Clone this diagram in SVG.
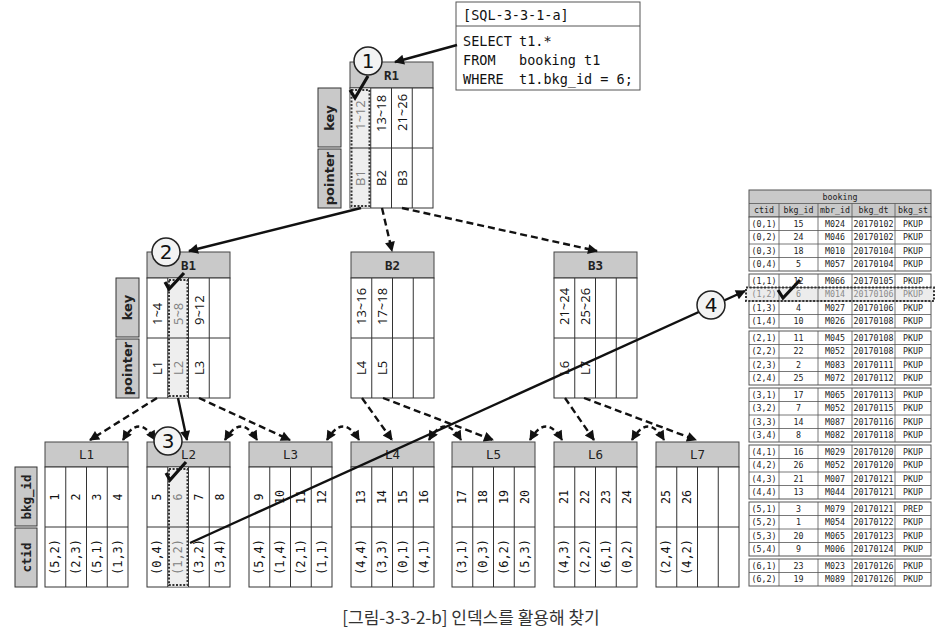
<svg xmlns="http://www.w3.org/2000/svg" width="942" height="640" viewBox="0 0 942 640">
<defs>
<style>
.hd{fill:#c9c9c9;stroke:#444;stroke-width:1}
.bd{fill:#fff;stroke:#333;stroke-width:1}
.ln{fill:none;stroke:#333;stroke-width:1}
.hi{fill:#eeeeee;stroke:none}
.dot{fill:none;stroke:#333;stroke-width:2;stroke-dasharray:2 1.6}
.sl{fill:#c9c9c9;stroke:#333;stroke-width:1}
.ht{font-family:"DejaVu Sans Mono",monospace;font-size:12.5px;text-anchor:middle;dominant-baseline:central;fill:#222}
.st{font-family:"DejaVu Sans","Noto Sans",sans-serif;font-weight:bold;font-size:13px;text-anchor:middle;dominant-baseline:central;fill:#222}
.sm{font-family:"DejaVu Sans Mono",monospace;font-weight:bold;font-size:12.5px;text-anchor:middle;dominant-baseline:central;fill:#222}
.k{font-family:"Open Sans","Noto Sans",sans-serif;font-size:13px;text-anchor:start;dominant-baseline:central;fill:#111}
.p{font-family:"Open Sans","Noto Sans",sans-serif;font-size:13px;text-anchor:middle;dominant-baseline:central;fill:#111}
.n{font-family:"DejaVu Sans Mono",monospace;font-size:11.5px;text-anchor:middle;dominant-baseline:central;fill:#111}
.c{font-family:"DejaVu Sans Mono",monospace;font-size:12px;text-anchor:middle;dominant-baseline:central;fill:#111}
.g{fill:#808080}
.sql{font-family:"DejaVu Sans Mono",monospace;font-size:13.5px;fill:#111}
.tb{font-family:"DejaVu Sans Mono",monospace;font-size:8.3px;text-anchor:middle;dominant-baseline:central;fill:#222}
.tbg{fill:#8a8a8a}
.tl{fill:none;stroke:#555;stroke-width:0.8}
.tr{fill:#fff;stroke:#555;stroke-width:1}
.th{fill:#c9c9c9;stroke:#555;stroke-width:1}
.sol{fill:none;stroke:#111;stroke-width:2.4;marker-end:url(#ah)}
.dsh{fill:none;stroke:#111;stroke-width:2.4;stroke-dasharray:7 4;marker-end:url(#ah)}
.cur{fill:none;stroke:#111;stroke-width:2.4;stroke-dasharray:5 3.5;marker-end:url(#ah);marker-start:url(#ah2)}
.chk{fill:none;stroke:#111;stroke-width:3.2;stroke-linejoin:miter;stroke-linecap:butt}
.cir{fill:#f3f3f3;stroke:#222;stroke-width:1.5}
.cn{font-family:"DejaVu Sans","Liberation Sans",sans-serif;font-size:20px;text-anchor:middle;dominant-baseline:central;fill:#111}
</style>
<marker id="ah" viewBox="0 0 10 10" refX="9" refY="5" markerUnits="userSpaceOnUse" markerWidth="12" markerHeight="10" orient="auto"><path d="M0,0L10,5L0,10z" fill="#111"/></marker>
<marker id="ah2" viewBox="0 0 10 10" refX="9" refY="5" markerUnits="userSpaceOnUse" markerWidth="12" markerHeight="10" orient="auto-start-reverse"><path d="M0,0L10,5L0,10z" fill="#111"/></marker>
</defs>
<rect x="0" y="0" width="942" height="640" fill="#fff"/>

<!-- SQL box -->
<g id="sql">
<rect x="456" y="2" width="184" height="88" fill="#fff" stroke="#555" stroke-width="1"/>
<line x1="456" y1="26" x2="640" y2="26" stroke="#555" stroke-width="1"/>
<text class="sql" x="463" y="20">[SQL-3-3-1-a]</text>
<text class="sql" x="463" y="46">SELECT</text><text class="sql" x="519" y="46">t1.*</text>
<text class="sql" x="463" y="65">FROM</text><text class="sql" x="519" y="65">booking t1</text>
<text class="sql" x="463" y="84">WHERE</text><text class="sql" x="519" y="84">t1.bkg_id = 6;</text>
</g>

<!-- R1 -->
<g id="R1">
<rect class="sl" x="318" y="88" width="23" height="59"/>
<rect class="sl" x="318" y="149" width="23" height="59"/>
<text class="st" transform="translate(329.5,118) rotate(-90)">key</text>
<text class="st" transform="translate(329.5,178.5) rotate(-90)">pointer</text>
<rect class="hd" x="350" y="62" width="83" height="26"/>
<text class="ht" x="391.5" y="75" font-weight="bold">R1</text>
<rect class="bd" x="350" y="88" width="83" height="120"/>
<rect class="hi" x="350.5" y="88.5" width="20" height="119"/>
<path class="ln" d="M370.75,88V208M391.5,88V208M412.25,88V208M350,148H433"/>
<rect class="dot" x="351.5" y="90" width="18" height="116"/>
<text class="k g" transform="translate(360.4,130) rotate(-90)">1~12</text>
<text class="k" transform="translate(381.1,132) rotate(-90)">13~18</text>
<text class="k" transform="translate(401.9,131) rotate(-90)">21~26</text>
<text class="p g" transform="translate(360.4,178) rotate(-90)">B1</text>
<text class="p" transform="translate(381.1,178) rotate(-90)">B2</text>
<text class="p" transform="translate(401.9,178) rotate(-90)">B3</text>
</g>

<!-- B1 -->
<g id="B1">
<rect class="sl" x="116" y="278" width="23" height="59"/>
<rect class="sl" x="116" y="339" width="23" height="59"/>
<text class="st" transform="translate(127.5,307.5) rotate(-90)">key</text>
<text class="st" transform="translate(127.5,368.5) rotate(-90)">pointer</text>
<rect class="hd" x="147" y="252" width="83" height="26"/>
<text class="ht" x="188.5" y="265" font-weight="bold">B1</text>
<rect class="bd" x="147" y="278" width="83" height="120"/>
<rect class="hi" x="168.25" y="278.5" width="20" height="119"/>
<path class="ln" d="M167.75,278V398M188.5,278V398M209.25,278V398M147,338H230"/>
<rect class="dot" x="169" y="280" width="18.5" height="116"/>
<text class="k" transform="translate(157.4,325) rotate(-90)">1~4</text>
<text class="k g" transform="translate(178.1,325) rotate(-90)">5~8</text>
<text class="k" transform="translate(198.9,325) rotate(-90)">9~12</text>
<text class="p" transform="translate(157.4,368) rotate(-90)">L1</text>
<text class="p g" transform="translate(178.1,368) rotate(-90)">L2</text>
<text class="p" transform="translate(198.9,368) rotate(-90)">L3</text>
</g>

<!-- B2 -->
<g id="B2">
<rect class="hd" x="351" y="252" width="83" height="26"/>
<text class="ht" x="392.5" y="265" font-weight="bold">B2</text>
<rect class="bd" x="351" y="278" width="83" height="120"/>
<path class="ln" d="M371.75,278V398M392.5,278V398M413.25,278V398M351,338H434"/>
<text class="k" transform="translate(361.4,325) rotate(-90)">13~16</text>
<text class="k" transform="translate(382.1,325) rotate(-90)">17~18</text>
<text class="p" transform="translate(361.4,368) rotate(-90)">L4</text>
<text class="p" transform="translate(382.1,368) rotate(-90)">L5</text>
</g>

<!-- B3 -->
<g id="B3">
<rect class="hd" x="554" y="252" width="83" height="26"/>
<text class="ht" x="595.5" y="265" font-weight="bold">B3</text>
<rect class="bd" x="554" y="278" width="83" height="120"/>
<path class="ln" d="M574.75,278V398M595.5,278V398M616.25,278V398M554,338H637"/>
<text class="k" transform="translate(564.4,325) rotate(-90)">21~24</text>
<text class="k" transform="translate(585.1,325) rotate(-90)">25~26</text>
<text class="p" transform="translate(564.4,368) rotate(-90)">L6</text>
<text class="p" transform="translate(585.1,368) rotate(-90)">L7</text>
</g>

<!-- leaf side labels -->
<g id="leaf-labels">
<rect class="sl" x="15" y="467" width="22" height="59"/>
<rect class="sl" x="15" y="528" width="22" height="59"/>
<text class="sm" transform="translate(26,497) rotate(-90)">bkg_id</text>
<text class="sm" transform="translate(26,557.5) rotate(-90)">ctid</text>
</g>

<!-- L1 -->
<g id="L1">
<rect class="hd" x="45" y="442" width="83" height="25"/>
<text class="ht" x="86.5" y="454.5">L1</text>
<rect class="bd" x="45" y="467" width="83" height="120"/>
<path class="ln" d="M65.75,467V587M86.5,467V587M107.25,467V587M45,527H128"/>
<text class="n" transform="translate(55.4,497) rotate(-90)">1</text>
<text class="n" transform="translate(76.1,497) rotate(-90)">2</text>
<text class="n" transform="translate(96.9,497) rotate(-90)">3</text>
<text class="n" transform="translate(117.6,497) rotate(-90)">4</text>
<text class="c" transform="translate(55.4,557) rotate(-90)">(5,2)</text>
<text class="c" transform="translate(76.1,557) rotate(-90)">(2,3)</text>
<text class="c" transform="translate(96.9,557) rotate(-90)">(5,1)</text>
<text class="c" transform="translate(117.6,557) rotate(-90)">(1,3)</text>
</g>

<!-- L2 -->
<g id="L2">
<rect class="hd" x="147" y="442" width="83" height="25"/>
<text class="ht" x="188.5" y="454.5">L2</text>
<rect class="bd" x="147" y="467" width="83" height="120"/>
<rect class="hi" x="168.25" y="467.5" width="20" height="119"/>
<path class="ln" d="M167.75,467V587M188.5,467V587M209.25,467V587M147,527H230"/>
<rect class="dot" x="169" y="469" width="18.5" height="116"/>
<text class="n" transform="translate(157.4,497) rotate(-90)">5</text>
<text class="n g" transform="translate(178.1,497) rotate(-90)">6</text>
<text class="n" transform="translate(198.9,497) rotate(-90)">7</text>
<text class="n" transform="translate(219.6,497) rotate(-90)">8</text>
<text class="c" transform="translate(157.4,557) rotate(-90)">(0,4)</text>
<text class="c g" transform="translate(178.1,557) rotate(-90)">(1,2)</text>
<text class="c" transform="translate(198.9,557) rotate(-90)">(3,2)</text>
<text class="c" transform="translate(219.6,557) rotate(-90)">(3,4)</text>
</g>

<!-- L3 -->
<g id="L3">
<rect class="hd" x="249" y="442" width="83" height="25"/>
<text class="ht" x="290.5" y="454.5">L3</text>
<rect class="bd" x="249" y="467" width="83" height="120"/>
<path class="ln" d="M269.75,467V587M290.5,467V587M311.25,467V587M249,527H332"/>
<text class="n" transform="translate(259.4,497) rotate(-90)">9</text>
<text class="n" transform="translate(280.1,497) rotate(-90)">10</text>
<text class="n" transform="translate(300.9,497) rotate(-90)">11</text>
<text class="n" transform="translate(321.6,497) rotate(-90)">12</text>
<text class="c" transform="translate(259.4,557) rotate(-90)">(5,4)</text>
<text class="c" transform="translate(280.1,557) rotate(-90)">(1,4)</text>
<text class="c" transform="translate(300.9,557) rotate(-90)">(2,1)</text>
<text class="c" transform="translate(321.6,557) rotate(-90)">(1,1)</text>
</g>

<!-- L4 -->
<g id="L4">
<rect class="hd" x="351" y="442" width="83" height="25"/>
<text class="ht" x="392.5" y="454.5">L4</text>
<rect class="bd" x="351" y="467" width="83" height="120"/>
<path class="ln" d="M371.75,467V587M392.5,467V587M413.25,467V587M351,527H434"/>
<text class="n" transform="translate(361.4,497) rotate(-90)">13</text>
<text class="n" transform="translate(382.1,497) rotate(-90)">14</text>
<text class="n" transform="translate(402.9,497) rotate(-90)">15</text>
<text class="n" transform="translate(423.6,497) rotate(-90)">16</text>
<text class="c" transform="translate(361.4,557) rotate(-90)">(4,4)</text>
<text class="c" transform="translate(382.1,557) rotate(-90)">(3,3)</text>
<text class="c" transform="translate(402.9,557) rotate(-90)">(0,1)</text>
<text class="c" transform="translate(423.6,557) rotate(-90)">(4,1)</text>
</g>

<!-- L5 -->
<g id="L5">
<rect class="hd" x="452" y="442" width="83" height="25"/>
<text class="ht" x="493.5" y="454.5">L5</text>
<rect class="bd" x="452" y="467" width="83" height="120"/>
<path class="ln" d="M472.75,467V587M493.5,467V587M514.25,467V587M452,527H535"/>
<text class="n" transform="translate(462.4,497) rotate(-90)">17</text>
<text class="n" transform="translate(483.1,497) rotate(-90)">18</text>
<text class="n" transform="translate(503.9,497) rotate(-90)">19</text>
<text class="n" transform="translate(524.6,497) rotate(-90)">20</text>
<text class="c" transform="translate(462.4,557) rotate(-90)">(3,1)</text>
<text class="c" transform="translate(483.1,557) rotate(-90)">(0,3)</text>
<text class="c" transform="translate(503.9,557) rotate(-90)">(6,2)</text>
<text class="c" transform="translate(524.6,557) rotate(-90)">(5,3)</text>
</g>

<!-- L6 -->
<g id="L6">
<rect class="hd" x="554" y="442" width="83" height="25"/>
<text class="ht" x="595.5" y="454.5">L6</text>
<rect class="bd" x="554" y="467" width="83" height="120"/>
<path class="ln" d="M574.75,467V587M595.5,467V587M616.25,467V587M554,527H637"/>
<text class="n" transform="translate(564.4,497) rotate(-90)">21</text>
<text class="n" transform="translate(585.1,497) rotate(-90)">22</text>
<text class="n" transform="translate(605.9,497) rotate(-90)">23</text>
<text class="n" transform="translate(626.6,497) rotate(-90)">24</text>
<text class="c" transform="translate(564.4,557) rotate(-90)">(4,3)</text>
<text class="c" transform="translate(585.1,557) rotate(-90)">(2,2)</text>
<text class="c" transform="translate(605.9,557) rotate(-90)">(6,1)</text>
<text class="c" transform="translate(626.6,557) rotate(-90)">(0,2)</text>
</g>

<!-- L7 -->
<g id="L7">
<rect class="hd" x="656" y="442" width="83" height="25"/>
<text class="ht" x="697.5" y="454.5">L7</text>
<rect class="bd" x="656" y="467" width="83" height="120"/>
<path class="ln" d="M676.75,467V587M697.5,467V587M718.25,467V587M656,527H739"/>
<text class="n" transform="translate(666.4,497) rotate(-90)">25</text>
<text class="n" transform="translate(687.1,497) rotate(-90)">26</text>
<text class="c" transform="translate(666.4,557) rotate(-90)">(2,4)</text>
<text class="c" transform="translate(687.1,557) rotate(-90)">(4,2)</text>
</g>

<!-- booking table -->
<g id="booking">
<rect class="th" x="749" y="190" width="182" height="27"/>
<path class="tl" d="M749,203.5H931M779,203.5V217M818,203.5V217M852,203.5V217M895,203.5V217"/>
<text class="tb" x="840" y="196.75">booking</text>
<text class="tb" y="210.25"><tspan x="764">ctid</tspan><tspan x="798.5">bkg_id</tspan><tspan x="835">mbr_id</tspan><tspan x="873.5">bkg_dt</tspan><tspan x="913">bkg_st</tspan></text>

<rect class="tr" x="749" y="217" width="182" height="54"/>
<path class="tl" d="M779,217V271M818,217V271M852,217V271M895,217V271M749,230.5H931M749,244H931M749,257.5H931"/>
<rect class="tr" x="749" y="274" width="182" height="54"/>
<rect x="746" y="287.5" width="188" height="13.5" fill="#ececec"/>
<path class="tl" d="M779,274V328M818,274V328M852,274V328M895,274V328M749,287.5H931M749,301H931M749,314.5H931"/>
<rect class="dot" x="746" y="287.5" width="188" height="13.5"/>
<rect class="tr" x="749" y="331" width="182" height="54"/>
<path class="tl" d="M779,331V385M818,331V385M852,331V385M895,331V385M749,344.5H931M749,358H931M749,371.5H931"/>
<rect class="tr" x="749" y="388" width="182" height="54"/>
<path class="tl" d="M779,388V442M818,388V442M852,388V442M895,388V442M749,401.5H931M749,415H931M749,428.5H931"/>
<rect class="tr" x="749" y="445" width="182" height="54"/>
<path class="tl" d="M779,445V499M818,445V499M852,445V499M895,445V499M749,458.5H931M749,472H931M749,485.5H931"/>
<rect class="tr" x="749" y="502" width="182" height="54"/>
<path class="tl" d="M779,502V556M818,502V556M852,502V556M895,502V556M749,515.5H931M749,529H931M749,542.5H931"/>
<rect class="tr" x="749" y="559" width="182" height="27"/>
<path class="tl" d="M779,559V586M818,559V586M852,559V586M895,559V586M749,572.5H931"/>

<text class="tb" y="223.75"><tspan x="764">(0,1)</tspan><tspan x="798.5">15</tspan><tspan x="835">M024</tspan><tspan x="873.5">20170102</tspan><tspan x="913">PKUP</tspan></text>
<text class="tb" y="237.25"><tspan x="764">(0,2)</tspan><tspan x="798.5">24</tspan><tspan x="835">M046</tspan><tspan x="873.5">20170102</tspan><tspan x="913">PKUP</tspan></text>
<text class="tb" y="250.75"><tspan x="764">(0,3)</tspan><tspan x="798.5">18</tspan><tspan x="835">M010</tspan><tspan x="873.5">20170104</tspan><tspan x="913">PKUP</tspan></text>
<text class="tb" y="264.25"><tspan x="764">(0,4)</tspan><tspan x="798.5">5</tspan><tspan x="835">M057</tspan><tspan x="873.5">20170104</tspan><tspan x="913">PKUP</tspan></text>

<text class="tb" y="280.75"><tspan x="764">(1,1)</tspan><tspan x="798.5">12</tspan><tspan x="835">M066</tspan><tspan x="873.5">20170105</tspan><tspan x="913">PKUP</tspan></text>
<text class="tb tbg" y="294.25"><tspan x="764">(1,2)</tspan><tspan x="798.5">6</tspan><tspan x="835">M014</tspan><tspan x="873.5">20170106</tspan><tspan x="913">PKUP</tspan></text>
<text class="tb" y="307.75"><tspan x="764">(1,3)</tspan><tspan x="798.5">4</tspan><tspan x="835">M027</tspan><tspan x="873.5">20170106</tspan><tspan x="913">PKUP</tspan></text>
<text class="tb" y="321.25"><tspan x="764">(1,4)</tspan><tspan x="798.5">10</tspan><tspan x="835">M026</tspan><tspan x="873.5">20170108</tspan><tspan x="913">PKUP</tspan></text>

<text class="tb" y="337.75"><tspan x="764">(2,1)</tspan><tspan x="798.5">11</tspan><tspan x="835">M045</tspan><tspan x="873.5">20170108</tspan><tspan x="913">PKUP</tspan></text>
<text class="tb" y="351.25"><tspan x="764">(2,2)</tspan><tspan x="798.5">22</tspan><tspan x="835">M052</tspan><tspan x="873.5">20170108</tspan><tspan x="913">PKUP</tspan></text>
<text class="tb" y="364.75"><tspan x="764">(2,3)</tspan><tspan x="798.5">2</tspan><tspan x="835">M083</tspan><tspan x="873.5">20170111</tspan><tspan x="913">PKUP</tspan></text>
<text class="tb" y="378.25"><tspan x="764">(2,4)</tspan><tspan x="798.5">25</tspan><tspan x="835">M072</tspan><tspan x="873.5">20170112</tspan><tspan x="913">PKUP</tspan></text>

<text class="tb" y="394.75"><tspan x="764">(3,1)</tspan><tspan x="798.5">17</tspan><tspan x="835">M065</tspan><tspan x="873.5">20170113</tspan><tspan x="913">PKUP</tspan></text>
<text class="tb" y="408.25"><tspan x="764">(3,2)</tspan><tspan x="798.5">7</tspan><tspan x="835">M052</tspan><tspan x="873.5">20170115</tspan><tspan x="913">PKUP</tspan></text>
<text class="tb" y="421.75"><tspan x="764">(3,3)</tspan><tspan x="798.5">14</tspan><tspan x="835">M087</tspan><tspan x="873.5">20170116</tspan><tspan x="913">PKUP</tspan></text>
<text class="tb" y="435.25"><tspan x="764">(3,4)</tspan><tspan x="798.5">8</tspan><tspan x="835">M082</tspan><tspan x="873.5">20170118</tspan><tspan x="913">PKUP</tspan></text>

<text class="tb" y="451.75"><tspan x="764">(4,1)</tspan><tspan x="798.5">16</tspan><tspan x="835">M029</tspan><tspan x="873.5">20170120</tspan><tspan x="913">PKUP</tspan></text>
<text class="tb" y="465.25"><tspan x="764">(4,2)</tspan><tspan x="798.5">26</tspan><tspan x="835">M052</tspan><tspan x="873.5">20170120</tspan><tspan x="913">PKUP</tspan></text>
<text class="tb" y="478.75"><tspan x="764">(4,3)</tspan><tspan x="798.5">21</tspan><tspan x="835">M007</tspan><tspan x="873.5">20170121</tspan><tspan x="913">PKUP</tspan></text>
<text class="tb" y="492.25"><tspan x="764">(4,4)</tspan><tspan x="798.5">13</tspan><tspan x="835">M044</tspan><tspan x="873.5">20170121</tspan><tspan x="913">PKUP</tspan></text>

<text class="tb" y="508.75"><tspan x="764">(5,1)</tspan><tspan x="798.5">3</tspan><tspan x="835">M079</tspan><tspan x="873.5">20170121</tspan><tspan x="913">PREP</tspan></text>
<text class="tb" y="522.25"><tspan x="764">(5,2)</tspan><tspan x="798.5">1</tspan><tspan x="835">M054</tspan><tspan x="873.5">20170122</tspan><tspan x="913">PKUP</tspan></text>
<text class="tb" y="535.75"><tspan x="764">(5,3)</tspan><tspan x="798.5">20</tspan><tspan x="835">M065</tspan><tspan x="873.5">20170123</tspan><tspan x="913">PKUP</tspan></text>
<text class="tb" y="549.25"><tspan x="764">(5,4)</tspan><tspan x="798.5">9</tspan><tspan x="835">M006</tspan><tspan x="873.5">20170124</tspan><tspan x="913">PKUP</tspan></text>

<text class="tb" y="565.75"><tspan x="764">(6,1)</tspan><tspan x="798.5">23</tspan><tspan x="835">M023</tspan><tspan x="873.5">20170126</tspan><tspan x="913">PKUP</tspan></text>
<text class="tb" y="579.25"><tspan x="764">(6,2)</tspan><tspan x="798.5">19</tspan><tspan x="835">M089</tspan><tspan x="873.5">20170126</tspan><tspan x="913">PKUP</tspan></text>
</g>

<!-- connectors -->
<g id="connectors">
<path class="sol" d="M457,45L395,62"/>
<path class="sol" d="M361,208L189,251"/>
<path class="dsh" d="M382,208L392,251"/>
<path class="dsh" d="M402,208L597,251"/>
<path class="dsh" d="M157,398L90,440"/>
<path class="sol" d="M178,398L187,440"/>
<path class="dsh" d="M199,398L290,440"/>
<path class="dsh" d="M362,398L392,440"/>
<path class="dsh" d="M383,398L493,440"/>
<path class="dsh" d="M565,398L594,440"/>
<path class="dsh" d="M584,398L696,440"/>
<path class="cur" d="M123,440Q139,413 155,440"/>
<path class="cur" d="M225,440Q241,413 257,440"/>
<path class="cur" d="M327,440Q343,413 359,440"/>
<path class="cur" d="M429,440Q445,413 461,440"/>
<path class="cur" d="M530,440Q546,413 562,440"/>
<path class="cur" d="M632,440Q648,413 664,440"/>
<path class="sol" d="M190,543L745,291"/>
</g>

<!-- step markers -->
<g id="marks">
<path class="chk" d="M350,90L355,98L368,76"/>
<path class="chk" d="M165,282L169,289L184,273"/>
<path class="chk" d="M166,473L170,480L186,462"/>
<path class="chk" d="M778,290L783,298L800,280" stroke-width="3.8"/>
<circle class="cir" cx="368" cy="61" r="14"/><text class="cn" x="368" y="61">1</text>
<circle class="cir" cx="166" cy="252" r="14"/><text class="cn" x="166" y="252">2</text>
<circle class="cir" cx="168" cy="441" r="14"/><text class="cn" x="168" y="441">3</text>
<circle class="cir" cx="711" cy="305" r="14"/><text class="cn" x="711" y="305">4</text>
</g>

<text x="471" y="624" font-family="'Noto Sans CJK KR','Noto Sans',sans-serif" font-size="17" fill="#333" text-anchor="middle">[그림-3-3-2-b] 인덱스를 활용해 찾기</text>
</svg>
